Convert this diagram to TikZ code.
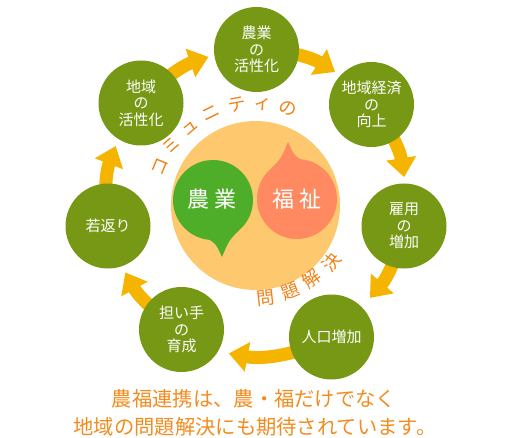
\documentclass[tikz,border=0pt]{standalone}
\usepackage{fontspec}
\newfontfamily\jp{Noto Sans CJK JP}
\usetikzlibrary{arrows.meta,backgrounds,calc}
\definecolor{cgreen}{RGB}{118,152,20}
\definecolor{carrow}{RGB}{245,180,0}
\definecolor{cbig}{RGB}{253,200,110}
\definecolor{cbubg}{RGB}{78,174,42}
\definecolor{cbubs}{RGB}{255,138,98}
\definecolor{corange}{RGB}{242,128,20}
\definecolor{ctext}{RGB}{243,140,30}
\begin{document}
\begin{tikzpicture}[x=1pt,y=1pt,
  stage/.style={circle, fill=cgreen, minimum size=85pt, inner sep=0pt, text=white, align=center,
    font=\jp\fontsize{15}{16.5}\selectfont},
  ringarrow/.style={draw=carrow, line width=13pt, -{Triangle[width=29pt,length=19pt]}},
  arcchar/.style={text=corange, font=\jp\fontsize{18}{19}\selectfont, inner sep=0pt,
    text height=14pt, text depth=1pt},
  smallkana/.style={inner xsep=-3pt, text height=10pt, text depth=1pt},
  bubbletext/.style={text=white, font=\jp\fontsize{22}{22}\selectfont, inner sep=0pt},
  bottomtext/.style={text=ctext, font=\jp\fontsize{20.3}{24}\selectfont, inner sep=0pt, anchor=base},
]
\useasboundingbox (0,0) rectangle (511,437);
\coordinate (ring) at (256,237);
\coordinate (mid) at (255.5,231.5);

% stages
\node[stage] (agri) at (256.5,387.5) {農業\\の\\活性化};
\node[stage] (econ) at (371.5,332.5) {地域経済\\の\\向上};
\node[stage] (jobs) at (404,211) {雇用\\の\\増加};
\node[stage] (pop) at (331.5,100) {人口増加};
\node[stage] (bearers) at (181.5,107.5) {担い手\\の\\育成};
\node[stage] (young) at (108,211) {若返り};
\node[stage] (local) at (141,334) {地域\\の\\活性化};

% arrows behind the circles
\begin{scope}[on background layer]
\draw[ringarrow] (local.center) arc[start angle=140.1, end angle=108.6, radius=150.4];
\draw[ringarrow] (agri.center) arc[start angle=89.8, end angle=58.3, radius=150.5];
\draw[ringarrow] (econ.center) arc[start angle=39.6, end angle=8.8, radius=149.9];
\draw[ringarrow] (jobs.center) arc[start angle=-10, end angle=-40.7, radius=150.3];
\draw[ringarrow] (pop.center) arc[start angle=-61.3, end angle=-100.5, radius=155];
\draw[ringarrow] (bearers.center) arc[start angle=-119.9, end angle=-151, radius=149.4];
\draw[ringarrow] (young.center) arc[start angle=190, end angle=159, radius=150.3];
\end{scope}

% central disc
\node[circle, fill=cbig, minimum size=169pt, inner sep=0pt] (core) at (mid) {};

% speech bubbles
\fill[cbubg] ($(213,237)+(-40:40)$) arc[start angle=-40, end angle=265, radius=40]
  .. controls (216,193) .. (222,180) .. controls (229,197) .. cycle;
\begin{scope}[rotate around={180:(255,237.5)}]
\fill[cbubs] ($(213,237)+(-40:40)$) arc[start angle=-40, end angle=265, radius=40]
  .. controls (216,193) .. (222,180) .. controls (229,197) .. cycle;
\end{scope}
\node[bubbletext] (nogyo) at (212,238) {農\kern5pt業};
\node[bubbletext] (fukushi) at (297,238) {福\kern5pt祉};

% arc text (top)
\node[arcchar, rotate=68] (t1) at ([shift={(158:103)}]mid) {コ};
\node[arcchar, rotate=54.5] (t2) at ([shift={(144.5:103)}]mid) {ミ};
\node[arcchar, smallkana, rotate=40] (t3) at ([shift={(130:101)}]mid) {ュ};
\node[arcchar, rotate=26] (t4) at ([shift={(116:103)}]mid) {ニ};
\node[arcchar, rotate=10.5] (t5) at ([shift={(100.5:103)}]mid) {テ};
\node[arcchar, smallkana, rotate=-4] (t6) at ([shift={(86:101)}]mid) {ィ};
\node[arcchar, rotate=-18.2] (t7) at ([shift={(71.8:103)}]mid) {の};

% arc text (bottom)
\node[arcchar, rotate=6.5] (b1) at ([shift={(-83.5:93)}]mid) {問};
\node[arcchar, rotate=22] (b2) at ([shift={(-68:92)}]mid) {題};
\node[arcchar, rotate=37.5] (b3) at ([shift={(-52.5:93)}]mid) {解};
\node[arcchar, rotate=52.5] (b4) at ([shift={(-37:95)}]mid) {決};

% bottom caption
\node[bottomtext] (cap1) at (254,30.5) {農福連携は、農・福だけでなく};
\node[bottomtext] (cap2) at (255,2.8) {地域の問題解決にも期待されています。};
\end{tikzpicture}
\end{document}
